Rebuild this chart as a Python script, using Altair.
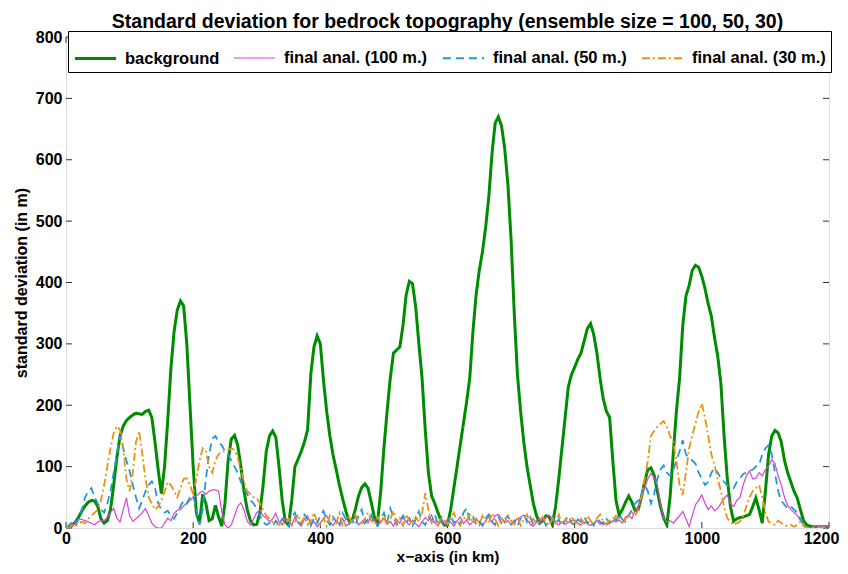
import altair as alt
import pandas as pd

# ---------------- data ----------------
x_km = list(range(0, 1205, 5))

background = [
    0, 2, 5, 10, 18, 28, 36, 42, 45, 44,
    35, 15, 8, 12, 30, 70, 115, 150, 166, 175,
    180, 184, 187, 186, 185, 190, 192, 180, 140, 95,
    56, 100, 175, 260, 320, 355, 370, 362, 300, 200,
    100, 25, 8, 55, 40, 12, 15, 37, 18, 3,
    40, 110, 145, 151, 135, 100, 60, 30, 12, 5,
    6, 25, 70, 125, 150, 158, 148, 100, 45, 10,
    5, 45, 100, 112, 125, 140, 160, 250, 295, 313,
    300, 240, 190, 150, 119, 95, 70, 48, 28, 12,
    12, 30, 52, 66, 72, 65, 42, 18, 10, 60,
    130, 190, 244, 285, 290, 295, 330, 380, 402, 398,
    360, 300, 244, 160, 90, 52, 40, 25, 12, 5,
    5, 30, 65, 100, 135, 170, 205, 244, 320, 380,
    420, 450, 490, 540, 610, 660, 670, 655, 618, 560,
    470, 350, 250, 190, 140, 100, 70, 40, 20, 8,
    12, 20, 18, 5, 35, 80, 130, 180, 230, 250,
    262, 275, 285, 305, 325, 333, 315, 285, 244, 210,
    190, 180, 110, 45, 21, 30, 42, 52, 42, 28,
    30, 50, 75, 95, 98, 86, 60, 35, 16, 5,
    50, 120, 190, 244, 330, 378, 395, 420, 428, 425,
    410, 390, 365, 345, 310, 280, 235, 150, 81, 35,
    11, 15, 17, 18, 20, 22, 35, 49, 30, 8,
    60, 120, 150, 159, 155, 140, 110, 90, 75, 60,
    49, 30, 12, 5, 3, 2, 2, 2, 2, 2,
    2,
]

anal_100 = [
    0, 0, 2, 10, 15, 14, 12, 10, 8, 5,
    10, 12, 12, 18, 25, 32, 16, 10, 30, 49,
    20, 11, 15, 20, 25, 32, 20, 8, 2, 0,
    0, 8, 16, 12, 24, 29, 30, 36, 40, 45,
    50, 52, 57, 60, 55, 60, 62, 62, 60, 27,
    5, 0, 5, 20, 35, 41, 30, 11, 5, 15,
    25, 29, 20, 16, 10, 15, 24, 10, 5, 16,
    12, 5, 18, 8, 3, 14, 20, 6, 10, 2,
    8, 15, 20, 10, 4, 12, 6, 16, 3, 8,
    12, 18, 5, 10, 15, 8, 20, 12, 4, 9,
    16, 6, 11, 3, 14, 8, 18, 10, 5, 13,
    7, 2, 10, 17, 12, 21, 8, 4, 12, 6,
    15, 9, 3, 11, 18, 7, 13, 5, 10, 16,
    8, 4, 12, 18, 10, 20, 22, 15, 8, 12,
    5, 10, 15, 18, 21, 14, 6, 3, 10, 16,
    12, 18, 21, 12, 8, 5, 10, 6, 9, 12,
    13, 8, 5, 10, 7, 4, 8, 12, 6, 10,
    5, 8, 12, 10, 13, 8, 18, 21, 15, 29,
    35, 50, 65, 80, 89, 82, 70, 40, 16, 10,
    12, 8, 14, 20, 27, 15, 2, 20, 38, 45,
    54, 40, 30, 36, 28, 32, 40, 48, 54, 40,
    35, 45, 50, 70, 85, 93, 80, 81, 90, 85,
    95, 101, 111, 105, 85, 70, 50, 37, 30, 25,
    21, 12, 5, 0, 0, 1, 2, 2, 2, 2,
    2,
]

anal_50 = [
    0, 5, 10, 5, 15, 30, 50, 60, 65, 50,
    40, 30, 25, 40, 60, 90, 120, 150, 130, 110,
    93, 70, 50, 32, 45, 60, 70, 76, 65, 40,
    30, 25, 28, 20, 15, 25, 35, 45, 40, 50,
    54, 30, 5, 30, 80, 120, 145, 150, 140, 135,
    125, 119, 110, 100, 90, 75, 65, 55, 45, 40,
    32, 20, 10, 5, 8, 3, 12, 5, 15, 8,
    3, 18, 25, 10, 6, 22, 14, 4, 16, 8,
    20, 28, 12, 5, 18, 10, 2, 24, 15, 6,
    12, 4, 20, 30, 8, 14, 22, 6, 3, 15,
    25, 10, 32, 18, 5, 12, 20, 8, 16, 4,
    14, 27, 10, 5, 18, 12, 22, 6, 15, 3,
    10, 20, 8, 14, 5, 25, 32, 12, 18, 6,
    12, 4, 16, 22, 10, 5, 18, 8, 14, 20,
    6, 12, 3, 16, 22, 10, 18, 5, 12, 8,
    15, 4, 10, 18, 6, 14, 3, 12, 20, 8,
    5, 14, 10, 18, 8, 12, 4, 16, 10, 6,
    15, 8, 18, 12, 22, 14, 10, 20, 30, 40,
    45, 55, 70, 60, 40, 55, 80, 95, 102, 90,
    85, 94, 110, 125, 143, 120, 114, 110, 105, 90,
    80, 70, 75, 90, 98, 90, 81, 75, 70, 65,
    65, 75, 81, 88, 90, 93, 95, 100, 102, 120,
    130, 135, 120, 90, 60, 44, 38, 32, 35, 30,
    25, 15, 5, 0, 0, 0, 1, 1, 1, 1,
    1,
]

anal_30 = [
    0, 2, 5, 3, 8, 10, 8, 15, 20, 25,
    30, 45, 70, 100, 130, 155, 166, 160, 130, 80,
    60, 90, 140, 158, 120, 80, 50, 40, 30, 35,
    45, 60, 75, 70, 60, 50, 65, 80, 81, 70,
    55, 80, 110, 130, 125, 100, 90, 110, 120, 125,
    125, 127, 130, 127, 115, 95, 75, 60, 55, 50,
    49, 40, 30, 20, 15, 10, 8, 5, 12, 6,
    15, 4, 10, 22, 8, 18, 5, 12, 25, 10,
    6, 16, 3, 20, 12, 8, 24, 5, 14, 18,
    8, 22, 10, 4, 15, 25, 12, 6, 18, 10,
    20, 5, 14, 28, 8, 16, 4, 22, 12, 6,
    18, 10, 24, 57, 30, 8, 14, 4, 20, 12,
    6, 15, 25, 10, 4, 18, 12, 22, 8, 15,
    5, 20, 12, 8, 24, 14, 4, 16, 10, 20,
    12, 6, 18, 4, 14, 22, 8, 15, 5, 12,
    18, 8, 4, 16, 10, 22, 6, 14, 8, 18,
    10, 4, 15, 8, 20, 12, 5, 16, 22, 10,
    6, 14, 10, 20, 15, 8, 15, 20, 25, 20,
    30, 50, 80, 109, 150, 158, 165, 170, 174, 165,
    150, 141, 110, 70, 54, 90, 130, 151, 170, 190,
    203, 179, 150, 120, 102, 80, 60, 35, 16, 10,
    5, 8, 10, 20, 35, 50, 60, 65, 70, 50,
    25, 10, 8, 5, 12, 8, 5, 3, 5, 2,
    5, 10, 3, 0, 0, 1, 1, 1, 1, 1,
    1,
]

series_names = ["background", "final anal. (100 m.)", "final anal. (50 m.)", "final anal. (30 m.)"]
series_values = [background, anal_100, anal_50, anal_30]
series_colors = ["#008c00", "#d643d6", "#1f9ad8", "#ec920f"]
series_dashes = [[1, 0], [1, 0], [8, 5], [8, 3, 2, 3]]
series_widths = [3.0, 1.2, 1.8, 1.8]

x_ticks = [0, 200, 400, 600, 800, 1000, 1200]
y_ticks = [0, 100, 200, 300, 400, 500, 600, 700, 800]

title_text = "Standard deviation for bedrock topography (ensemble size = 100, 50, 30)"
x_title = "x\u2212axis (in km)"
y_title = "standard deviation (in m)"

# ---------------- chart ----------------
FONT = "Liberation Sans"
W, H = 763, 491
TICK = 6

frames = []
for name, vals in zip(series_names, series_values):
    frames.append(pd.DataFrame({"x": x_km, "y": vals, "series": name}))

x_scale = alt.Scale(domain=[0, 1200], nice=False, zero=False)
y_scale = alt.Scale(domain=[0, 800], nice=False)

legend = alt.Legend(
    orient="none", legendX=2, legendY=-6, direction="horizontal", columns=4,
    title=None, symbolType="stroke", symbolSize=1700,
    labelFont=FONT, labelFontSize=16.5, labelFontWeight="bold", labelColor="black",
    labelOffset=7, columnPadding=11, padding=5,
    strokeColor="black", fillColor="white", cornerRadius=0,
)

x_enc = alt.X("x:Q", scale=x_scale, axis=alt.Axis(
    values=x_ticks, format="d", title=x_title, ticks=False, domain=False, grid=False,
    labelFont=FONT, labelFontSize=16, labelFontWeight="bold", labelColor="black",
    labelPadding=2, titleFont=FONT, titleFontSize=15.5, titleFontWeight="bold",
    titleColor="black", titlePadding=3, labelFlush=False,
    labelOffset={"condition": {"test": "datum.value === 1200", "value": -8}, "value": 0}))
y_enc = alt.Y("y:Q", scale=y_scale, axis=alt.Axis(
    values=y_ticks, format="d", title=y_title, ticks=False, domain=False, grid=False,
    labelFont=FONT, labelFontSize=16, labelFontWeight="bold", labelColor="black",
    labelPadding=4, titleFont=FONT, titleFontSize=16, titleFontWeight="bold",
    titleColor="black", titlePadding=6, labelFlush=False))

color_enc = alt.Color("series:N", scale=alt.Scale(domain=series_names, range=series_colors), legend=legend)
dash_enc = alt.StrokeDash("series:N", scale=alt.Scale(type="ordinal", domain=series_names, range=series_dashes), legend=legend)
width_enc = alt.StrokeWidth("series:N", scale=alt.Scale(type="ordinal", domain=series_names, range=series_widths), legend=legend)

line_layers = []
for df in frames:
    line_layers.append(
        alt.Chart(df).mark_line(clip=True).encode(
            x=x_enc, y=y_enc, color=color_enc, strokeDash=dash_enc, strokeWidth=width_enc
        )
    )

xt = pd.DataFrame({"t": x_ticks})
yt = pd.DataFrame({"t": y_ticks})
tick_color = "#333333"
ticks_bottom = alt.Chart(xt).mark_rule(color=tick_color, strokeWidth=1).encode(
    x=alt.X("t:Q", scale=x_scale), y=alt.value(H), y2=alt.value(H - TICK))
ticks_top = alt.Chart(xt).mark_rule(color=tick_color, strokeWidth=1).encode(
    x=alt.X("t:Q", scale=x_scale), y=alt.value(0), y2=alt.value(TICK))
ticks_left = alt.Chart(yt).mark_rule(color=tick_color, strokeWidth=1).encode(
    y=alt.Y("t:Q", scale=y_scale), x=alt.value(0), x2=alt.value(TICK))
ticks_right = alt.Chart(yt).mark_rule(color=tick_color, strokeWidth=1).encode(
    y=alt.Y("t:Q", scale=y_scale), x=alt.value(W), x2=alt.value(W - TICK))

chart = alt.layer(
    ticks_bottom, ticks_top, ticks_left, ticks_right, *line_layers
).properties(
    width=W, height=H,
    title=alt.TitleParams(title_text, font=FONT, fontSize=19.5, fontWeight="bold",
                          color="black", anchor="middle", offset=2, dy=5),
    autosize=alt.AutoSizeParams(type="none"),
    padding={"left": 58, "top": 29, "right": 11, "bottom": 38},
).configure_view(
    stroke="black", strokeWidth=1
).configure(background="white")

chart.save("out.html", embed_options={"renderer": "svg", "actions": False})
